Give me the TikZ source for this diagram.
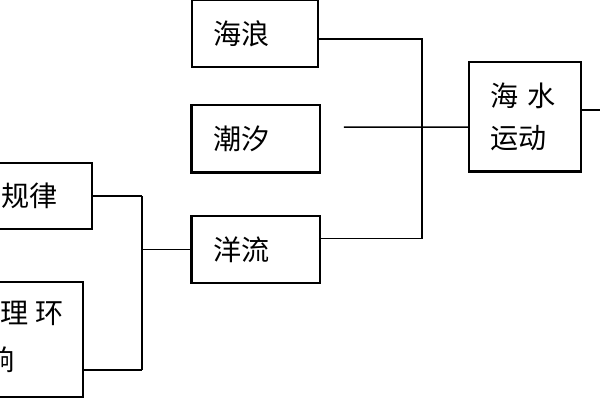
\documentclass[tikz,border=0pt]{standalone}
\usepackage{fontspec}
\setmainfont{Noto Sans CJK SC}
\usepackage{tikz}
\usetikzlibrary{calc,positioning}
\tikzset{
  wire/.style={line width=0.85pt,draw=black},
  heavy/.style={line width=1.7pt,draw=black},
  box/.style={draw=black,line width=0.85pt,fill=white,align=left,
              inner xsep=0.42cm,inner ysep=0pt,font=\fontsize{16}{24}\selectfont},
  txt/.style={inner sep=0pt,font=\fontsize{16}{24}\selectfont},
}

\begin{document}
\begin{tikzpicture}[x=0.02cm,y=-0.02cm]
  \useasboundingbox (0,0) rectangle (600,400);
  % ---- boxes ----
  \node[box,text width=1.68cm,minimum height=1.34cm] (waves)   at (255,33.5)  {海浪};
  \node[box,text width=1.72cm,minimum height=1.34cm] (tide)    at (256,138.5) {潮汐};
  \node[box,text width=1.72cm,minimum height=1.34cm] (current) at (256,249.5) {洋流};
  \node[box,text width=1.40cm,minimum height=2.18cm] (motion)  at (525,116.5) {海 水\\运动};
  \node[box,text width=1.40cm,minimum height=1.32cm] (rule)    at (36,196)    {规律};
  \node[box,minimum width=2.26cm,minimum height=2.30cm] (geo)  at (26.5,339.5) {};
  \node[txt] (geoa) at (32,313) {理 环};
  \node[txt] (geob) at (1,360)  {响};
  % ---- heavy edges ----
  \draw[heavy] (tide.north west) -- (tide.south west) -- (tide.south east);
  \draw[heavy] (current.north west) -- (current.south west);
  \draw[heavy] (motion.south west) -- (motion.south east);
  % ---- right trunk ----
  \coordinate (trunk) at (422,127);
  \coordinate (tidetail) at (344,127);
  \coordinate (outend) at (600,110);
  \draw[wire] ($(waves.east)+(0,5.5)$) -| (trunk);
  \draw[wire] ($(current.east)+(0,-11)$) -| (trunk);
  \draw[wire] (tidetail) -- ($(motion.west)+(0,10.5)$);
  \draw[wire] ($(motion.east)+(0,-6.5)$) -- (outend);
  % ---- left trunk ----
  \coordinate (ltrunk) at (142,249.5);
  \coordinate (geoout) at ($(geo.east)+(0,30.5)$);
  \draw[wire] (rule.east) -- (rule.east -| ltrunk);
  \draw[wire] (geoout) -- (geoout -| ltrunk);
  \draw[heavy] (rule.east -| ltrunk) -- (geoout -| ltrunk);
  \draw[wire] (ltrunk) -- (current.west);
\end{tikzpicture}
\end{document}
